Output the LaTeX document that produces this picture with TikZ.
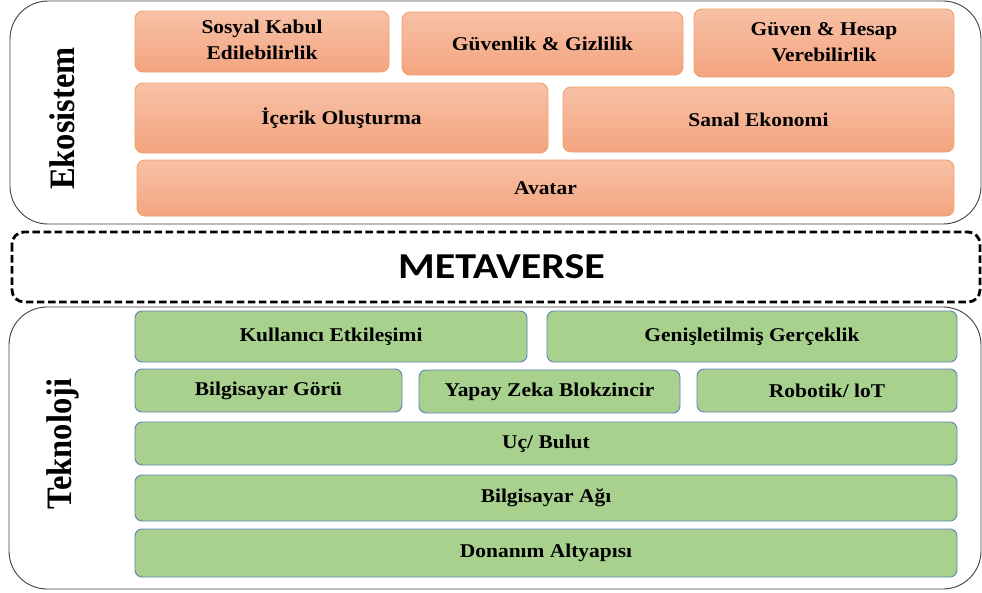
\documentclass[tikz,border=0pt]{standalone}
\usepackage{fontspec}
\setmainfont{Liberation Serif}
\newfontfamily\metafont{Carlito}
\definecolor{otop}{HTML}{F7C1A6}
\definecolor{obot}{HTML}{F4A47F}
\definecolor{oedge}{HTML}{F0A06A}
\definecolor{gfill}{HTML}{A9D18E}
\definecolor{gedge}{HTML}{5F80B8}
\definecolor{outer}{HTML}{404040}
\newcommand\lab[1]{\scalebox{1.1}[1]{#1}}
\newcommand\twolab[2]{\scalebox{1.1}[1]{\begin{tabular}{@{}c@{}}#1\\#2\end{tabular}}}
\begin{document}
\begin{tikzpicture}[x=1pt,y=-1pt,
  frame/.style={draw=outer, line width=0.9pt, rounded corners=38pt},
  obox/.style={draw=oedge, line width=0.9pt, top color=otop, bottom color=obot, rounded corners=8pt, inner sep=0pt,
    font=\fontsize{19.5}{26}\selectfont\bfseries},
  gbox/.style={draw=gedge, line width=0.9pt, fill=gfill, rounded corners=7pt, inner sep=0pt,
    font=\fontsize{19.5}{26}\selectfont\bfseries},
  side/.style={rotate=90, inner sep=0pt, font=\fontsize{32.5}{36}\selectfont\bfseries},
]
\useasboundingbox (0,0) rectangle (982,592);
% outer frames
\draw[frame] (10,1) rectangle (981,224);
\draw[frame] (9,307) rectangle (981,589);
\node[side] (eko) at (62,118.5) {\scalebox{1}[1.1]{Ekosistem}};
\node[side] (tek) at (63,444) {\scalebox{1}[1.1]{Teknoloji}};
% metaverse
\draw[line width=2.8pt, dash pattern=on 7.5pt off 3.6pt, rounded corners=12pt] (12,232) rectangle (980,302);
\node[inner sep=0pt, font=\metafont\fontsize{36.5}{40}\selectfont\bfseries] (meta) at (501.5,266.5) {\scalebox{1.15}[1]{METAVERSE}};
% orange boxes
\node[obox, minimum width=254pt, minimum height=61pt] (sosyal) at (262,41.5) {\twolab{Sosyal Kabul}{Edilebilirlik}};
\node[obox, minimum width=281pt, minimum height=63pt] (guvenlik) at (542.5,43.5) {\lab{Güvenlik \& Gizlilik}};
\node[obox, minimum width=260pt, minimum height=68pt] (guven) at (824,43) {\twolab{Güven \& Hesap}{Verebilirlik}};
\node[obox, minimum width=413pt, minimum height=70pt] (icerik) at (341.5,118) {\lab{İçerik Oluşturma}};
\node[obox, minimum width=391pt, minimum height=65pt] (sanal) at (758.5,119.5) {\lab{Sanal Ekonomi}};
\node[obox, minimum width=817pt, minimum height=56pt] (avatar) at (545.5,188) {\lab{Avatar}};
% green boxes
\node[gbox, minimum width=392pt, minimum height=51pt] (kullanici) at (331,336.5) {\lab{Kullanıcı Etkileşimi}};
\node[gbox, minimum width=410pt, minimum height=51pt] (genis) at (752,336.5) {\lab{Genişletilmiş Gerçeklik}};
\node[gbox, minimum width=267pt, minimum height=43pt] (goru) at (268.5,390.5) {\lab{Bilgisayar Görü}};
\node[gbox, minimum width=261pt, minimum height=43pt] (yapay) at (549.5,391.5) {\lab{Yapay Zeka Blokzincir}};
\node[gbox, minimum width=260pt, minimum height=43pt] (robotik) at (827,390.5) {\lab{Robotik/ loT}};
\node[gbox, minimum width=822pt, minimum height=43pt] (uc) at (546,443.5) {\lab{Uç/ Bulut}};
\node[gbox, minimum width=822pt, minimum height=46pt] (ag) at (546,498) {\lab{Bilgisayar Ağı}};
\node[gbox, minimum width=822pt, minimum height=48pt] (donanim) at (546,553) {\lab{Donanım Altyapısı}};
\end{tikzpicture}
\end{document}
